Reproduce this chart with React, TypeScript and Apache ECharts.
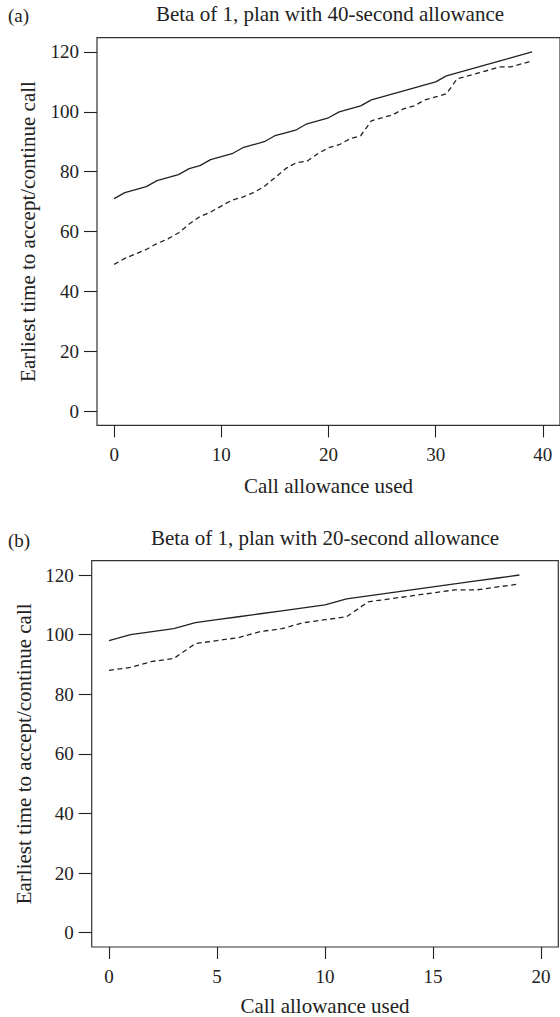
import React, { useEffect, useRef } from "react";
import * as echarts from "echarts";

// Panel (a): plan with a 40-second call allowance
const used40 = [0, 1, 2, 3, 4, 5, 6, 7, 8, 9, 10, 11, 12, 13, 14, 15, 16, 17, 18, 19,
  20, 21, 22, 23, 24, 25, 26, 27, 28, 29, 30, 31, 32, 33, 34, 35, 36, 37, 38, 39];
const accept40 = [71, 73, 74, 75, 77, 78, 79, 81, 82, 84, 85, 86, 88, 89, 90, 92, 93, 94, 96, 97,
  98, 100, 101, 102, 104, 105, 106, 107, 108, 109, 110, 112, 113, 114, 115, 116, 117, 118, 119, 120];
const continue40 = [49, 51, 52.5, 54, 56, 57.5, 59.5, 62.5, 65, 66.5, 68.5, 70.5, 71.5, 73, 75, 78, 81, 83, 83.5, 86,
  88, 89, 91, 92, 97, 98, 99, 101, 102, 104, 105, 106, 111, 112, 113, 114, 115, 115, 116, 117];

// Panel (b): plan with a 20-second call allowance
const used20 = [0, 1, 2, 3, 4, 5, 6, 7, 8, 9, 10, 11, 12, 13, 14, 15, 16, 17, 18, 19];
const accept20 = [98, 100, 101, 102, 104, 105, 106, 107, 108, 109, 110, 112, 113, 114, 115, 116, 117, 118, 119, 120];
const continue20 = [88, 89, 91, 92, 97, 98, 99, 101, 102, 104, 105, 106, 111, 112, 113, 114, 115, 115, 116, 117];

const xTicks40 = [0, 10, 20, 30, 40];
const xTicks20 = [0, 5, 10, 15, 20];
const yTicks = [0, 20, 40, 60, 80, 100, 120];

const FONT = "'Liberation Serif', 'Times New Roman', serif";
const INK = "#222";

function pairs(xs: number[], ys: number[]) {
  return xs.map((x, i) => [x, ys[i]]);
}

function xAxisFor(grid: number, min: number, max: number, ticks: number[], nameGap: number) {
  return {
    type: "value",
    gridIndex: grid,
    position: "bottom",
    min,
    max,
    name: "Call allowance used",
    nameLocation: "middle",
    nameGap,
    nameTextStyle: { fontFamily: FONT, fontSize: 21, color: INK },
    axisLine: { show: false, onZero: false },
    axisTick: { show: true, customValues: ticks, length: 12, lineStyle: { color: INK, width: 1.1 } },
    axisLabel: { customValues: ticks, margin: 20, fontFamily: FONT, fontSize: 19, color: INK },
    splitLine: { show: false },
  };
}

function yAxisFor(grid: number, nameGap: number) {
  return {
    type: "value",
    gridIndex: grid,
    position: "left",
    min: -4.8,
    max: 124.8,
    name: "Earliest time to accept/continue call",
    nameLocation: "middle",
    nameGap,
    nameTextStyle: { fontFamily: FONT, fontSize: 21, color: INK },
    axisLine: { show: false, onZero: false },
    axisTick: { show: true, customValues: yTicks, length: 13, lineStyle: { color: INK, width: 1.1 } },
    axisLabel: { customValues: yTicks, margin: 18, fontFamily: FONT, fontSize: 19, color: INK },
    splitLine: { show: false },
  };
}

function lineSeries(xi: number, data: number[][], dashed: boolean) {
  return {
    type: "line",
    xAxisIndex: xi,
    yAxisIndex: xi,
    data,
    symbol: "none",
    showSymbol: false,
    lineStyle: { color: INK, width: 1.3, type: dashed ? [5, 3.5] : "solid" },
  };
}

function textEl(text: string, x: number, y: number, align: string, size: number) {
  return {
    type: "text",
    x,
    y,
    style: {
      text,
      textAlign: align,
      textVerticalAlign: "middle",
      fontFamily: FONT,
      fontSize: size,
      fill: INK,
    },
  };
}

export default function App() {
  const ref = useRef<HTMLDivElement>(null);

  useEffect(() => {
    if (!ref.current) return;
    const chart = echarts.init(ref.current, undefined, { renderer: "svg" });
    chart.setOption({
      animation: false,
      backgroundColor: "#ffffff",
      grid: [
        { left: 97, top: 37.6, width: 466.6, height: 387.8, show: true, borderColor: "#333", borderWidth: 1.2, containLabel: false },
        { left: 91.7, top: 560.7, width: 466.6, height: 386.6, show: true, borderColor: "#333", borderWidth: 1.2, containLabel: false },
      ],
      xAxis: [
        xAxisFor(0, -1.6, 41.6, xTicks40, 50),
        xAxisFor(1, -0.8, 20.8, xTicks20, 48),
      ],
      yAxis: [yAxisFor(0, 59), yAxisFor(1, 57)],
      series: [
        lineSeries(0, pairs(used40, accept40), false),
        lineSeries(0, pairs(used40, continue40), true),
        lineSeries(1, pairs(used20, accept20), false),
        lineSeries(1, pairs(used20, continue20), true),
      ],
      graphic: [
        textEl("(a)", 8, 15, "left", 19),
        textEl("Beta of 1, plan with 40-second allowance", 330, 14, "center", 21),
        textEl("(b)", 8, 540, "left", 19),
        textEl("Beta of 1, plan with 20-second allowance", 325, 538, "center", 21),
      ],
    });
    return () => chart.dispose();
  }, []);

  return (
    <div
      ref={ref}
      style={{ position: "absolute", left: 0, top: 0, width: 560, height: 1017 }}
    />
  );
}
